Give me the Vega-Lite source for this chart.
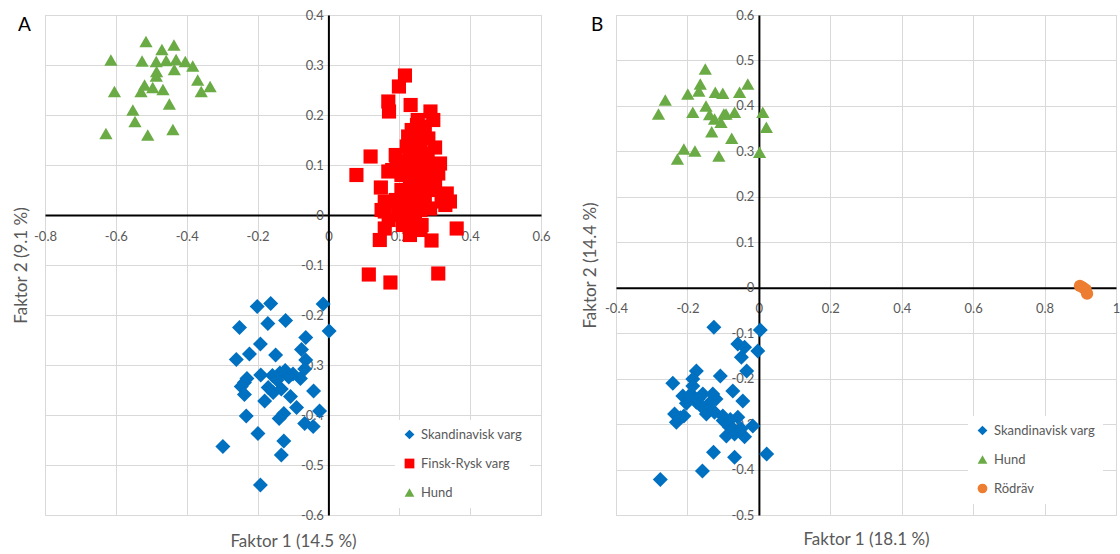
{
  "$schema": "https://vega.github.io/schema/vega-lite/v6.json",
  "background": "white",
  "padding": {"left": 11, "top": 8, "right": 2, "bottom": 2},
  "spacing": 30,
  "config": {
    "font": "Lato",
    "view": {"stroke": "#d9d9d9", "strokeWidth": 1},
    "axis": {
      "grid": true, "gridColor": "#d9d9d9", "gridWidth": 1,
      "domainColor": "black", "domainWidth": 2,
      "ticks": false, "tickSize": 0,
      "labelFont": "Lato", "labelFontSize": 13, "labelColor": "#595959",
      "labelOverlap": false, "labelFlush": false, "labelBound": false,
      "titleFont": "Lato", "titleFontSize": 17, "titleFontWeight": "normal", "titleColor": "#595959",
      "titleBaseline": "middle", "labelExpr": "'' + datum.value"
    },
    "axisX": {"labelPadding": 15},
    "axisY": {"labelPadding": 5},
    "legend": {
      "orient": "none", "fillColor": "white", "padding": 8, "rowPadding": 15,
      "labelFont": "Lato", "labelFontSize": 13, "labelColor": "#595959",
      "symbolSize": 95, "symbolStrokeWidth": 0, "labelOffset": 5
    },
    "title": {"font": "Lato", "fontSize": 19, "fontWeight": "normal", "color": "black", "anchor": "start", "frame": "group"}
  },
  "resolve": {"scale": {"color": "independent", "shape": "independent"}, "legend": {"color": "independent", "shape": "independent"}},
  "datasets": {
    "a": [
      {"g": "Hund", "x": -0.515, "y": 0.347}, {"g": "Hund", "x": -0.470, "y": 0.331}, {"g": "Hund", "x": -0.436, "y": 0.340},
      {"g": "Hund", "x": -0.614, "y": 0.310}, {"g": "Hund", "x": -0.526, "y": 0.308}, {"g": "Hund", "x": -0.486, "y": 0.307},
      {"g": "Hund", "x": -0.458, "y": 0.309}, {"g": "Hund", "x": -0.430, "y": 0.311}, {"g": "Hund", "x": -0.404, "y": 0.307},
      {"g": "Hund", "x": -0.383, "y": 0.298}, {"g": "Hund", "x": -0.435, "y": 0.291}, {"g": "Hund", "x": -0.485, "y": 0.287},
      {"g": "Hund", "x": -0.486, "y": 0.278}, {"g": "Hund", "x": -0.369, "y": 0.270}, {"g": "Hund", "x": -0.334, "y": 0.257},
      {"g": "Hund", "x": -0.359, "y": 0.247}, {"g": "Hund", "x": -0.604, "y": 0.247}, {"g": "Hund", "x": -0.519, "y": 0.260},
      {"g": "Hund", "x": -0.529, "y": 0.247}, {"g": "Hund", "x": -0.496, "y": 0.255}, {"g": "Hund", "x": -0.467, "y": 0.251},
      {"g": "Hund", "x": -0.449, "y": 0.222}, {"g": "Hund", "x": -0.552, "y": 0.210}, {"g": "Hund", "x": -0.546, "y": 0.187},
      {"g": "Hund", "x": -0.628, "y": 0.163}, {"g": "Hund", "x": -0.510, "y": 0.160}, {"g": "Hund", "x": -0.439, "y": 0.171},

      {"g": "Finsk-Rysk varg", "x": 0.216, "y": 0.279}, {"g": "Finsk-Rysk varg", "x": 0.199, "y": 0.257}, {"g": "Finsk-Rysk varg", "x": 0.169, "y": 0.227},
      {"g": "Finsk-Rysk varg", "x": 0.171, "y": 0.207}, {"g": "Finsk-Rysk varg", "x": 0.232, "y": 0.220}, {"g": "Finsk-Rysk varg", "x": 0.288, "y": 0.207},
      {"g": "Finsk-Rysk varg", "x": 0.296, "y": 0.190}, {"g": "Finsk-Rysk varg", "x": 0.252, "y": 0.190}, {"g": "Finsk-Rysk varg", "x": 0.235, "y": 0.170},
      {"g": "Finsk-Rysk varg", "x": 0.272, "y": 0.177}, {"g": "Finsk-Rysk varg", "x": 0.254, "y": 0.160}, {"g": "Finsk-Rysk varg", "x": 0.225, "y": 0.157},
      {"g": "Finsk-Rysk varg", "x": 0.282, "y": 0.153}, {"g": "Finsk-Rysk varg", "x": 0.221, "y": 0.137}, {"g": "Finsk-Rysk varg", "x": 0.249, "y": 0.140},
      {"g": "Finsk-Rysk varg", "x": 0.301, "y": 0.135}, {"g": "Finsk-Rysk varg", "x": 0.235, "y": 0.120}, {"g": "Finsk-Rysk varg", "x": 0.272, "y": 0.123},
      {"g": "Finsk-Rysk varg", "x": 0.119, "y": 0.117}, {"g": "Finsk-Rysk varg", "x": 0.192, "y": 0.107}, {"g": "Finsk-Rysk varg", "x": 0.315, "y": 0.103},
      {"g": "Finsk-Rysk varg", "x": 0.169, "y": 0.087}, {"g": "Finsk-Rysk varg", "x": 0.079, "y": 0.080}, {"g": "Finsk-Rysk varg", "x": 0.235, "y": 0.097},
      {"g": "Finsk-Rysk varg", "x": 0.263, "y": 0.087}, {"g": "Finsk-Rysk varg", "x": 0.310, "y": 0.083}, {"g": "Finsk-Rysk varg", "x": 0.206, "y": 0.080},
      {"g": "Finsk-Rysk varg", "x": 0.148, "y": 0.055}, {"g": "Finsk-Rysk varg", "x": 0.206, "y": 0.050}, {"g": "Finsk-Rysk varg", "x": 0.235, "y": 0.060},
      {"g": "Finsk-Rysk varg", "x": 0.268, "y": 0.053}, {"g": "Finsk-Rysk varg", "x": 0.301, "y": 0.063}, {"g": "Finsk-Rysk varg", "x": 0.334, "y": 0.043},
      {"g": "Finsk-Rysk varg", "x": 0.343, "y": 0.027}, {"g": "Finsk-Rysk varg", "x": 0.320, "y": 0.027}, {"g": "Finsk-Rysk varg", "x": 0.159, "y": 0.027},
      {"g": "Finsk-Rysk varg", "x": 0.221, "y": 0.027}, {"g": "Finsk-Rysk varg", "x": 0.272, "y": 0.030}, {"g": "Finsk-Rysk varg", "x": 0.244, "y": 0.037},
      {"g": "Finsk-Rysk varg", "x": 0.159, "y": 0.007}, {"g": "Finsk-Rysk varg", "x": 0.197, "y": 0.010}, {"g": "Finsk-Rysk varg", "x": 0.230, "y": 0.003},
      {"g": "Finsk-Rysk varg", "x": 0.258, "y": 0.010}, {"g": "Finsk-Rysk varg", "x": 0.287, "y": 0.013}, {"g": "Finsk-Rysk varg", "x": 0.216, "y": -0.007},
      {"g": "Finsk-Rysk varg", "x": 0.244, "y": -0.013}, {"g": "Finsk-Rysk varg", "x": 0.263, "y": -0.020}, {"g": "Finsk-Rysk varg", "x": 0.159, "y": -0.027},
      {"g": "Finsk-Rysk varg", "x": 0.235, "y": -0.027}, {"g": "Finsk-Rysk varg", "x": 0.362, "y": -0.027}, {"g": "Finsk-Rysk varg", "x": 0.145, "y": -0.050},
      {"g": "Finsk-Rysk varg", "x": 0.291, "y": -0.051}, {"g": "Finsk-Rysk varg", "x": 0.114, "y": -0.119}, {"g": "Finsk-Rysk varg", "x": 0.175, "y": -0.135},
      {"g": "Finsk-Rysk varg", "x": 0.310, "y": -0.117},
      {"g": "Finsk-Rysk varg", "x": 0.240, "y": 0.150}, {"g": "Finsk-Rysk varg", "x": 0.260, "y": 0.130}, {"g": "Finsk-Rysk varg", "x": 0.270, "y": 0.160},
      {"g": "Finsk-Rysk varg", "x": 0.220, "y": 0.100}, {"g": "Finsk-Rysk varg", "x": 0.250, "y": 0.100}, {"g": "Finsk-Rysk varg", "x": 0.280, "y": 0.090},
      {"g": "Finsk-Rysk varg", "x": 0.230, "y": 0.070}, {"g": "Finsk-Rysk varg", "x": 0.260, "y": 0.070}, {"g": "Finsk-Rysk varg", "x": 0.290, "y": 0.060},
      {"g": "Finsk-Rysk varg", "x": 0.210, "y": 0.040}, {"g": "Finsk-Rysk varg", "x": 0.240, "y": 0.030}, {"g": "Finsk-Rysk varg", "x": 0.270, "y": 0.040},
      {"g": "Finsk-Rysk varg", "x": 0.250, "y": 0.180}, {"g": "Finsk-Rysk varg", "x": 0.280, "y": 0.110}, {"g": "Finsk-Rysk varg", "x": 0.230, "y": 0.120},
      {"g": "Finsk-Rysk varg", "x": 0.190, "y": 0.030}, {"g": "Finsk-Rysk varg", "x": 0.180, "y": 0.090}, {"g": "Finsk-Rysk varg", "x": 0.200, "y": 0.000},
      {"g": "Finsk-Rysk varg", "x": 0.260, "y": 0.010}, {"g": "Finsk-Rysk varg", "x": 0.300, "y": 0.050}, {"g": "Finsk-Rysk varg", "x": 0.320, "y": 0.040},
      {"g": "Finsk-Rysk varg", "x": 0.330, "y": 0.020}, {"g": "Finsk-Rysk varg", "x": 0.170, "y": -0.010}, {"g": "Finsk-Rysk varg", "x": 0.210, "y": -0.020},
      {"g": "Finsk-Rysk varg", "x": 0.230, "y": -0.040}, {"g": "Finsk-Rysk varg", "x": 0.260, "y": -0.030}, {"g": "Finsk-Rysk varg", "x": 0.150, "y": 0.010},
      {"g": "Finsk-Rysk varg", "x": 0.190, "y": 0.120}, {"g": "Finsk-Rysk varg", "x": 0.250, "y": 0.050}, {"g": "Finsk-Rysk varg", "x": 0.290, "y": 0.100},

      {"g": "Skandinavisk varg", "x": -0.201, "y": -0.183}, {"g": "Skandinavisk varg", "x": -0.163, "y": -0.177}, {"g": "Skandinavisk varg", "x": -0.015, "y": -0.178},
      {"g": "Skandinavisk varg", "x": -0.251, "y": -0.225}, {"g": "Skandinavisk varg", "x": -0.171, "y": -0.217}, {"g": "Skandinavisk varg", "x": -0.121, "y": -0.211},
      {"g": "Skandinavisk varg", "x": 0.002, "y": -0.232}, {"g": "Skandinavisk varg", "x": -0.064, "y": -0.245}, {"g": "Skandinavisk varg", "x": -0.192, "y": -0.258},
      {"g": "Skandinavisk varg", "x": -0.223, "y": -0.278}, {"g": "Skandinavisk varg", "x": -0.149, "y": -0.280}, {"g": "Skandinavisk varg", "x": -0.076, "y": -0.269},
      {"g": "Skandinavisk varg", "x": -0.260, "y": -0.289}, {"g": "Skandinavisk varg", "x": -0.064, "y": -0.290}, {"g": "Skandinavisk varg", "x": -0.191, "y": -0.320},
      {"g": "Skandinavisk varg", "x": -0.230, "y": -0.327}, {"g": "Skandinavisk varg", "x": -0.158, "y": -0.321}, {"g": "Skandinavisk varg", "x": -0.137, "y": -0.316},
      {"g": "Skandinavisk varg", "x": -0.122, "y": -0.311}, {"g": "Skandinavisk varg", "x": -0.112, "y": -0.324}, {"g": "Skandinavisk varg", "x": -0.079, "y": -0.327},
      {"g": "Skandinavisk varg", "x": -0.067, "y": -0.308}, {"g": "Skandinavisk varg", "x": -0.145, "y": -0.330}, {"g": "Skandinavisk varg", "x": -0.100, "y": -0.318},
      {"g": "Skandinavisk varg", "x": -0.237, "y": -0.335}, {"g": "Skandinavisk varg", "x": -0.246, "y": -0.343}, {"g": "Skandinavisk varg", "x": -0.237, "y": -0.359},
      {"g": "Skandinavisk varg", "x": -0.180, "y": -0.372}, {"g": "Skandinavisk varg", "x": -0.156, "y": -0.355}, {"g": "Skandinavisk varg", "x": -0.133, "y": -0.348},
      {"g": "Skandinavisk varg", "x": -0.107, "y": -0.363}, {"g": "Skandinavisk varg", "x": -0.042, "y": -0.352}, {"g": "Skandinavisk varg", "x": -0.090, "y": -0.385},
      {"g": "Skandinavisk varg", "x": -0.025, "y": -0.392}, {"g": "Skandinavisk varg", "x": -0.232, "y": -0.402}, {"g": "Skandinavisk varg", "x": -0.126, "y": -0.397},
      {"g": "Skandinavisk varg", "x": -0.139, "y": -0.407}, {"g": "Skandinavisk varg", "x": -0.067, "y": -0.417}, {"g": "Skandinavisk varg", "x": -0.043, "y": -0.423},
      {"g": "Skandinavisk varg", "x": -0.199, "y": -0.437}, {"g": "Skandinavisk varg", "x": -0.298, "y": -0.463}, {"g": "Skandinavisk varg", "x": -0.126, "y": -0.452},
      {"g": "Skandinavisk varg", "x": -0.133, "y": -0.480}, {"g": "Skandinavisk varg", "x": -0.192, "y": -0.540}, {"g": "Skandinavisk varg", "x": -0.170, "y": -0.345}
    ],
    "b": [
      {"g": "Hund", "x": -0.150, "y": 0.481}, {"g": "Hund", "x": -0.164, "y": 0.448}, {"g": "Hund", "x": -0.168, "y": 0.433},
      {"g": "Hund", "x": -0.199, "y": 0.426}, {"g": "Hund", "x": -0.122, "y": 0.430}, {"g": "Hund", "x": -0.101, "y": 0.428},
      {"g": "Hund", "x": -0.054, "y": 0.430}, {"g": "Hund", "x": -0.031, "y": 0.448}, {"g": "Hund", "x": -0.262, "y": 0.413},
      {"g": "Hund", "x": -0.281, "y": 0.382}, {"g": "Hund", "x": -0.185, "y": 0.386}, {"g": "Hund", "x": -0.148, "y": 0.400},
      {"g": "Hund", "x": -0.138, "y": 0.381}, {"g": "Hund", "x": -0.124, "y": 0.371}, {"g": "Hund", "x": -0.106, "y": 0.364},
      {"g": "Hund", "x": -0.092, "y": 0.382}, {"g": "Hund", "x": -0.068, "y": 0.386}, {"g": "Hund", "x": 0.011, "y": 0.386},
      {"g": "Hund", "x": 0.021, "y": 0.353}, {"g": "Hund", "x": -0.132, "y": 0.343}, {"g": "Hund", "x": -0.076, "y": 0.329},
      {"g": "Hund", "x": -0.210, "y": 0.305}, {"g": "Hund", "x": -0.228, "y": 0.283}, {"g": "Hund", "x": -0.179, "y": 0.301},
      {"g": "Hund", "x": -0.112, "y": 0.290}, {"g": "Hund", "x": 0.002, "y": 0.298}, {"g": "Hund", "x": -0.098, "y": 0.382},

      {"g": "Rödräv", "x": 0.899, "y": 0.004}, {"g": "Rödräv", "x": 0.908, "y": 0.0}, {"g": "Rödräv", "x": 0.915, "y": -0.004},
      {"g": "Rödräv", "x": 0.919, "y": -0.013},

      {"g": "Skandinavisk varg", "x": -0.126, "y": -0.087}, {"g": "Skandinavisk varg", "x": 0.004, "y": -0.093}, {"g": "Skandinavisk varg", "x": -0.059, "y": -0.124},
      {"g": "Skandinavisk varg", "x": -0.040, "y": -0.131}, {"g": "Skandinavisk varg", "x": -0.003, "y": -0.139}, {"g": "Skandinavisk varg", "x": -0.049, "y": -0.153},
      {"g": "Skandinavisk varg", "x": -0.034, "y": -0.183}, {"g": "Skandinavisk varg", "x": -0.108, "y": -0.194}, {"g": "Skandinavisk varg", "x": -0.175, "y": -0.183},
      {"g": "Skandinavisk varg", "x": -0.185, "y": -0.201}, {"g": "Skandinavisk varg", "x": -0.241, "y": -0.210}, {"g": "Skandinavisk varg", "x": -0.073, "y": -0.227},
      {"g": "Skandinavisk varg", "x": -0.213, "y": -0.238}, {"g": "Skandinavisk varg", "x": -0.190, "y": -0.234}, {"g": "Skandinavisk varg", "x": -0.157, "y": -0.234},
      {"g": "Skandinavisk varg", "x": -0.129, "y": -0.234}, {"g": "Skandinavisk varg", "x": -0.045, "y": -0.249}, {"g": "Skandinavisk varg", "x": -0.175, "y": -0.252},
      {"g": "Skandinavisk varg", "x": -0.203, "y": -0.254}, {"g": "Skandinavisk varg", "x": -0.236, "y": -0.278}, {"g": "Skandinavisk varg", "x": -0.231, "y": -0.296},
      {"g": "Skandinavisk varg", "x": -0.210, "y": -0.282}, {"g": "Skandinavisk varg", "x": -0.147, "y": -0.278}, {"g": "Skandinavisk varg", "x": -0.124, "y": -0.274},
      {"g": "Skandinavisk varg", "x": -0.101, "y": -0.282}, {"g": "Skandinavisk varg", "x": -0.059, "y": -0.285}, {"g": "Skandinavisk varg", "x": -0.082, "y": -0.307},
      {"g": "Skandinavisk varg", "x": -0.017, "y": -0.304}, {"g": "Skandinavisk varg", "x": -0.091, "y": -0.326}, {"g": "Skandinavisk varg", "x": -0.068, "y": -0.322},
      {"g": "Skandinavisk varg", "x": -0.040, "y": -0.328}, {"g": "Skandinavisk varg", "x": -0.127, "y": -0.362}, {"g": "Skandinavisk varg", "x": -0.068, "y": -0.373},
      {"g": "Skandinavisk varg", "x": 0.022, "y": -0.366}, {"g": "Skandinavisk varg", "x": -0.158, "y": -0.403}, {"g": "Skandinavisk varg", "x": -0.276, "y": -0.422},
      {"g": "Skandinavisk varg", "x": -0.170, "y": -0.245}, {"g": "Skandinavisk varg", "x": -0.140, "y": -0.255}, {"g": "Skandinavisk varg", "x": -0.160, "y": -0.262},
      {"g": "Skandinavisk varg", "x": -0.100, "y": -0.292}, {"g": "Skandinavisk varg", "x": -0.080, "y": -0.290}, {"g": "Skandinavisk varg", "x": -0.070, "y": -0.312},
      {"g": "Skandinavisk varg", "x": -0.050, "y": -0.310}, {"g": "Skandinavisk varg", "x": -0.120, "y": -0.245}, {"g": "Skandinavisk varg", "x": -0.220, "y": -0.286},
      {"g": "Skandinavisk varg", "x": -0.185, "y": -0.216}
    ]
  },
  "hconcat": [
    {
      "width": 496, "height": 500,
      "title": {"text": "A", "dx": -27, "dy": 30},
      "data": {"name": "a"},
      "mark": {"type": "point", "filled": true, "opacity": 1, "strokeWidth": 0},
      "encoding": {
        "x": {"field": "x", "type": "quantitative",
          "scale": {"domain": [-0.8, 0.6], "nice": false, "zero": false},
          "axis": {"orient": "bottom", "offset": -300, "values": [-0.8, -0.6, -0.4, -0.2, 0, 0.2, 0.4, 0.6],
            "title": "Faktor 1 (14.5 %)", "titleY": 326}},
        "y": {"field": "y", "type": "quantitative",
          "scale": {"domain": [-0.6, 0.4], "nice": false, "zero": false},
          "axis": {"orient": "left", "offset": -283.4, "values": [-0.6, -0.5, -0.4, -0.3, -0.2, -0.1, 0, 0.1, 0.2, 0.3, 0.4],
            "title": "Faktor 2 (9.1 %)", "titleX": -307}},
        "color": {"field": "g", "type": "nominal",
          "scale": {"domain": ["Skandinavisk varg", "Finsk-Rysk varg", "Hund"], "range": ["#0070C0", "#FF0000", "#6AAB45"]},
          "legend": {"title": null, "legendX": 350, "legendY": 405}},
        "shape": {"field": "g", "type": "nominal",
          "scale": {"domain": ["Skandinavisk varg", "Finsk-Rysk varg", "Hund"], "range": ["diamond", "square", "triangle-up"]},
          "legend": {"title": null, "legendX": 350, "legendY": 405}},
        "size": {"field": "g", "type": "nominal",
          "scale": {"domain": ["Skandinavisk varg", "Finsk-Rysk varg", "Hund"], "range": [225, 150, 240]},
          "legend": null}
      }
    },
    {
      "width": 500, "height": 500,
      "title": {"text": "B", "dx": -25, "dy": 30},
      "data": {"name": "b"},
      "mark": {"type": "point", "filled": true, "opacity": 1, "strokeWidth": 0},
      "encoding": {
        "x": {"field": "x", "type": "quantitative",
          "scale": {"domain": [-0.4, 1], "nice": false, "zero": false},
          "axis": {"orient": "bottom", "offset": -227.3, "values": [-0.4, -0.2, 0, 0.2, 0.4, 0.6, 0.8, 1],
            "title": "Faktor 1 (18.1 %)", "titleY": 252}},
        "y": {"field": "y", "type": "quantitative",
          "scale": {"domain": [-0.5, 0.6], "nice": false, "zero": false},
          "axis": {"orient": "left", "offset": -142.9, "values": [-0.5, -0.4, -0.3, -0.2, -0.1, 0, 0.1, 0.2, 0.3, 0.4, 0.5, 0.6],
            "title": "Faktor 2 (14.4 %)", "titleX": -168}},
        "color": {"field": "g", "type": "nominal",
          "scale": {"domain": ["Skandinavisk varg", "Hund", "Rödräv"], "range": ["#0070C0", "#6AAB45", "#ED7D31"]},
          "legend": {"title": null, "legendX": 352, "legendY": 401}},
        "shape": {"field": "g", "type": "nominal",
          "scale": {"domain": ["Skandinavisk varg", "Hund", "Rödräv"], "range": ["diamond", "triangle-up", "circle"]},
          "legend": {"title": null, "legendX": 352, "legendY": 401}},
        "size": {"field": "g", "type": "nominal",
          "scale": {"domain": ["Skandinavisk varg", "Hund", "Rödräv"], "range": [225, 240, 110]},
          "legend": null}
      }
    }
  ]
}
